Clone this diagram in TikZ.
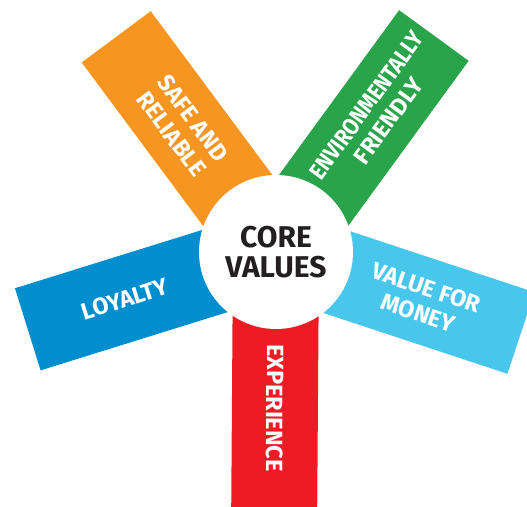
\documentclass[tikz,border=0pt]{standalone}
\usepackage{fontspec}
\setmainfont{Fira Sans}
\usepackage{tikz}

\definecolor{safeorange}{RGB}{246,150,33}
\definecolor{ecogreen}{RGB}{42,164,75}
\definecolor{moneyblue}{RGB}{72,198,235}
\definecolor{loyalblue}{RGB}{0,142,206}
\definecolor{expred}{RGB}{237,28,36}
\definecolor{coreink}{RGB}{35,31,32}

\begin{document}
\begin{tikzpicture}[x=1pt,y=1pt,
  bartext/.style={text=white, align=center,
    font=\bfseries\fontsize{23.5}{26.5}\selectfont}]
\useasboundingbox (-276,-254) rectangle (251,252);

% bars, each separately, rotated about the middle
\fill[safeorange, rotate=126.6] (40,-43) rectangle (268,43);
\fill[ecogreen, rotate=53.9] (40,-43) rectangle (268,43);
\fill[moneyblue, rotate=-18.3] (40,-43) rectangle (258,43);
\fill[expred, rotate=-90.4] (40,-43) rectangle (265,43);
\fill[loyalblue, rotate=197.3] (40,-43) rectangle (260,43);

% white disc on top
\node[circle, fill=white, minimum size=154, inner sep=0pt, align=center,
  text=coreink, font=\bfseries\fontsize{30}{30}\selectfont] (core) at (0,0) {CORE\\VALUES};

% bar labels
\node[bartext, rotate=-53.4] (safe) at (126.6:157) {SAFE AND\\RELIABLE};
\node[bartext, rotate=53.9] (eco) at (53.9:172) {\scalebox{0.87}[1]{ENVIRONMENTALLY}\\FRIENDLY};
\node[bartext, rotate=-18.3] (money) at (-18.3:154) {VALUE FOR\\MONEY};
\node[bartext, rotate=-90.4] (exp) at (-90.4:156) {EXPERIENCE};
\node[bartext, rotate=17.3] (loyal) at (197.3:158) {LOYALTY};
\end{tikzpicture}
\end{document}
